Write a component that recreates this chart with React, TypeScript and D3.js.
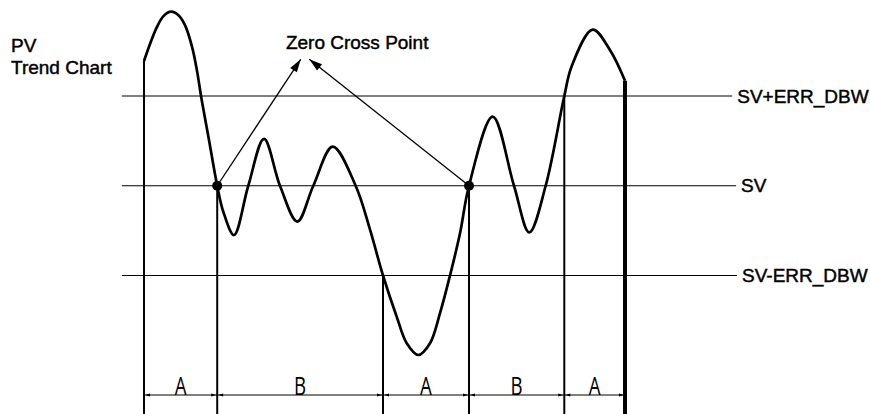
import * as d3 from "d3";
import React from "react";

// PV trend, time in % of the window, value in units of ERR_DBW around SV
const pvTime = [0, 1.25, 2.7, 4.05, 5.61, 7.17, 8.52, 9.98, 11.02, 11.95, 13.51, 15.22, 16.49, 18.71, 21.68, 24.95, 28.27, 31.87, 35.2, 39.23, 44.0, 46.99, 49.69, 52.54, 54.62, 57.03, 59.46, 61.54, 63.62, 65.7, 67.57, 72.49, 76.92, 80.1, 83.51, 87.38, 88.9, 93.28, 96.9, 100];
const pvValue = [1.39, 1.58, 1.77, 1.89, 1.94, 1.9, 1.79, 1.55, 1.28, 0.97, 0.51, 0, -0.29, -0.549, 0, 0.522, 0, -0.399, 0, 0.435, 0, -0.49, -1.0, -1.46, -1.755, -1.886, -1.755, -1.42, -1.0, -0.53, 0, 0.77, 0, -0.52, 0, 1.0, 1.33, 1.74, 1.51, 1.17];

const refLevels = [1, 0, -1];
const refLabels = ["SV+ERR_DBW", "SV", "SV-ERR_DBW"];
const refStart = -4.6;
const refEnd = [122.3, 123.1, 123.3];

const boundaries = [0, 15.22, 49.69, 67.57, 87.38, 100];
const segLabels = ["A", "B", "A", "B", "A"];
const zeroCross = [15.22, 67.57];

const crossLabel = { t: 29.5, v: 1.524, text: "Zero Cross Point" };
const crossTips = [32.58, 34.37];
const crossTipV = 1.409;

const W = 870;
const H = 414;
const dimY = 395;
const font = "'Liberation Sans', Arial, sans-serif";
const txt = { fontFamily: font, fontSize: 19, fill: "#000", stroke: "#000", strokeWidth: 0.45 };

const App = () => {
  const x = d3.scaleLinear().domain([0, 100]).range([144, 625]);
  const y = d3.scaleLinear().domain([-1, 1]).range([275.5, 96]);

  const pts: [number, number][] = pvTime.map((t, i) => [t, pvValue[i]]);
  const line = d3.line<[number, number]>()
    .x(d => x(d[0]))
    .y(d => y(d[1]))
    .curve(d3.curveCatmullRom.alpha(0.5));

  const valueAt = (t: number) => pvValue[pvTime.indexOf(t)];

  // filled arrowhead at (x2,y2) coming from (x1,y1)
  const head = (x1: number, y1: number, x2: number, y2: number, len: number, hw: number) => {
    const a = Math.atan2(y2 - y1, x2 - x1);
    const bx = x2 - len * Math.cos(a), by = y2 - len * Math.sin(a);
    const px = -Math.sin(a) * hw, py = Math.cos(a) * hw;
    return `M${x2},${y2}L${bx + px},${by + py}L${bx - px},${by - py}Z`;
  };

  return (
    <svg width={W} height={H} style={{ position: "absolute", left: 0, top: 0, display: "block", background: "#fff" }}>
      {/* reference levels */}
      {refLevels.map((v, i) => (
        <g key={refLabels[i]}>
          <line x1={x(refStart)} x2={x(refEnd[i])} y1={y(v)} y2={y(v)} stroke="#000" strokeWidth={1} />
          <text x={x(refEnd[i]) + 5} y={y(v) + 6.5} {...txt}>{refLabels[i]}</text>
        </g>
      ))}

      {/* boundary lines down from the curve */}
      {boundaries.map((t, i) => (
        <line key={t} x1={x(t)} x2={x(t)} y1={y(valueAt(t))} y2={H}
          stroke="#000" strokeWidth={i === boundaries.length - 1 ? 4 : 2} />
      ))}

      {/* PV curve */}
      <path d={line(pts) || ""} fill="none" stroke="#000" strokeWidth={2.7} strokeLinejoin="round" />

      {/* zero cross points + arrows */}
      {zeroCross.map((t, i) => {
        const x1 = x(t), y1 = y(0), x2 = x(crossTips[i]), y2 = y(crossTipV);
        return (
          <g key={t}>
            <line x1={x1} y1={y1} x2={x2} y2={y2} stroke="#000" strokeWidth={1.3} />
            <path d={head(x1, y1, x2, y2, 13, 4)} fill="#000" />
            <circle cx={x1} cy={y1} r={5} fill="#000" />
          </g>
        );
      })}
      <text x={x(crossLabel.t)} y={y(crossLabel.v)} {...txt}>{crossLabel.text}</text>

      {/* title */}
      <text x={11} y={51.5} {...txt}>PV</text>
      <text x={11} y={74} {...txt}>Trend Chart</text>

      {/* dimension line */}
      <line x1={x(0)} x2={x(100)} y1={dimY} y2={dimY} stroke="#000" strokeWidth={1} />
      {boundaries.map((t, i) => (
        <g key={"h" + t}>
          {i > 0 && <path d={head(x(t) - 8, dimY, x(t) - 1, dimY, 5, 1.6)} fill="#000" />}
          {i < boundaries.length - 1 && <path d={head(x(t) + 8, dimY, x(t) + 1, dimY, 5, 1.6)} fill="#000" />}
        </g>
      ))}
      {segLabels.map((s, i) => {
        const cx = (x(boundaries[i]) + x(boundaries[i + 1])) / 2;
        return (
          <text key={i} transform={`translate(${cx},${dimY - 0.5}) scale(0.72,1)`} textAnchor="middle"
            fontFamily="'Open Sans', 'DejaVu Sans', sans-serif" fontWeight={400} fontSize={26} fill="#000">{s}</text>
        );
      })}
    </svg>
  );
};

export default App;
